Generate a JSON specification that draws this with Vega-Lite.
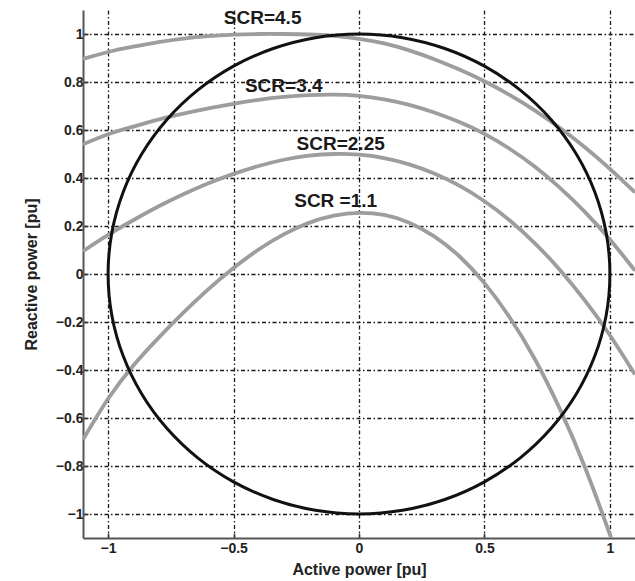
{
  "$schema": "https://vega.github.io/schema/vega-lite/v6.json",
  "width": 552,
  "height": 528,
  "autosize": {"type": "none"},
  "padding": {"left": 83, "top": 10, "right": 0, "bottom": 43},
  "background": "white",
  "config": {
    "view": {"stroke": null},
    "axis": {
      "grid": true,
      "gridColor": "#1a1a1a",
      "gridDash": [4, 2.5, 1.5, 2.5],
      "gridWidth": 1.3,
      "domainColor": "#555555",
      "domainWidth": 2,
      "tickColor": "#333333",
      "tickSize": -5,
      "tickWidth": 1.5,
      "labelFont": "Liberation Sans",
      "labelFontWeight": "bold",
      "labelFontSize": 14,
      "labelColor": "#222222",
      "labelFlush": false,
      "format": "~g",
      "titleFont": "Liberation Sans",
      "titleFontSize": 16,
      "titleFontWeight": "bold",
      "titleColor": "#222222"
    }
  },
  "datasets": {
    "curves": [
      {"P": -1.1, "Q": 0.896, "SCR": "4.5"},
      {"P": -1.0, "Q": 0.925, "SCR": "4.5"},
      {"P": -0.9, "Q": 0.947, "SCR": "4.5"},
      {"P": -0.8, "Q": 0.966, "SCR": "4.5"},
      {"P": -0.7, "Q": 0.981, "SCR": "4.5"},
      {"P": -0.6, "Q": 0.991, "SCR": "4.5"},
      {"P": -0.5, "Q": 0.997, "SCR": "4.5"},
      {"P": -0.4, "Q": 1.0, "SCR": "4.5"},
      {"P": -0.3, "Q": 1.0, "SCR": "4.5"},
      {"P": -0.2, "Q": 0.998, "SCR": "4.5"},
      {"P": -0.1, "Q": 0.992, "SCR": "4.5"},
      {"P": 0.0, "Q": 0.98, "SCR": "4.5"},
      {"P": 0.1, "Q": 0.961, "SCR": "4.5"},
      {"P": 0.2, "Q": 0.932, "SCR": "4.5"},
      {"P": 0.3, "Q": 0.895, "SCR": "4.5"},
      {"P": 0.4, "Q": 0.852, "SCR": "4.5"},
      {"P": 0.5, "Q": 0.803, "SCR": "4.5"},
      {"P": 0.6, "Q": 0.746, "SCR": "4.5"},
      {"P": 0.7, "Q": 0.682, "SCR": "4.5"},
      {"P": 0.8, "Q": 0.609, "SCR": "4.5"},
      {"P": 0.9, "Q": 0.528, "SCR": "4.5"},
      {"P": 1.0, "Q": 0.438, "SCR": "4.5"},
      {"P": 1.1, "Q": 0.34, "SCR": "4.5"},

      {"P": -1.1, "Q": 0.54, "SCR": "3.4"},
      {"P": -1.0, "Q": 0.582, "SCR": "3.4"},
      {"P": -0.9, "Q": 0.614, "SCR": "3.4"},
      {"P": -0.8, "Q": 0.643, "SCR": "3.4"},
      {"P": -0.7, "Q": 0.668, "SCR": "3.4"},
      {"P": -0.6, "Q": 0.69, "SCR": "3.4"},
      {"P": -0.5, "Q": 0.709, "SCR": "3.4"},
      {"P": -0.4, "Q": 0.726, "SCR": "3.4"},
      {"P": -0.3, "Q": 0.738, "SCR": "3.4"},
      {"P": -0.2, "Q": 0.745, "SCR": "3.4"},
      {"P": -0.1, "Q": 0.747, "SCR": "3.4"},
      {"P": 0.0, "Q": 0.742, "SCR": "3.4"},
      {"P": 0.1, "Q": 0.728, "SCR": "3.4"},
      {"P": 0.2, "Q": 0.705, "SCR": "3.4"},
      {"P": 0.3, "Q": 0.673, "SCR": "3.4"},
      {"P": 0.4, "Q": 0.633, "SCR": "3.4"},
      {"P": 0.5, "Q": 0.584, "SCR": "3.4"},
      {"P": 0.6, "Q": 0.522, "SCR": "3.4"},
      {"P": 0.7, "Q": 0.448, "SCR": "3.4"},
      {"P": 0.8, "Q": 0.36, "SCR": "3.4"},
      {"P": 0.9, "Q": 0.259, "SCR": "3.4"},
      {"P": 1.0, "Q": 0.144, "SCR": "3.4"},
      {"P": 1.1, "Q": 0.014, "SCR": "3.4"},

      {"P": -1.1, "Q": 0.095, "SCR": "2.25"},
      {"P": -1.0, "Q": 0.163, "SCR": "2.25"},
      {"P": -0.9, "Q": 0.224, "SCR": "2.25"},
      {"P": -0.8, "Q": 0.281, "SCR": "2.25"},
      {"P": -0.7, "Q": 0.332, "SCR": "2.25"},
      {"P": -0.6, "Q": 0.378, "SCR": "2.25"},
      {"P": -0.5, "Q": 0.417, "SCR": "2.25"},
      {"P": -0.4, "Q": 0.45, "SCR": "2.25"},
      {"P": -0.3, "Q": 0.476, "SCR": "2.25"},
      {"P": -0.2, "Q": 0.493, "SCR": "2.25"},
      {"P": -0.1, "Q": 0.5, "SCR": "2.25"},
      {"P": 0.0, "Q": 0.497, "SCR": "2.25"},
      {"P": 0.1, "Q": 0.483, "SCR": "2.25"},
      {"P": 0.2, "Q": 0.457, "SCR": "2.25"},
      {"P": 0.3, "Q": 0.419, "SCR": "2.25"},
      {"P": 0.4, "Q": 0.368, "SCR": "2.25"},
      {"P": 0.5, "Q": 0.303, "SCR": "2.25"},
      {"P": 0.6, "Q": 0.224, "SCR": "2.25"},
      {"P": 0.7, "Q": 0.129, "SCR": "2.25"},
      {"P": 0.8, "Q": 0.018, "SCR": "2.25"},
      {"P": 0.9, "Q": -0.11, "SCR": "2.25"},
      {"P": 1.0, "Q": -0.255, "SCR": "2.25"},
      {"P": 1.1, "Q": -0.419, "SCR": "2.25"},

      {"P": -1.1, "Q": -0.69, "SCR": "1.1"},
      {"P": -1.0, "Q": -0.52, "SCR": "1.1"},
      {"P": -0.9, "Q": -0.382, "SCR": "1.1"},
      {"P": -0.8, "Q": -0.267, "SCR": "1.1"},
      {"P": -0.7, "Q": -0.161, "SCR": "1.1"},
      {"P": -0.6, "Q": -0.063, "SCR": "1.1"},
      {"P": -0.5, "Q": 0.025, "SCR": "1.1"},
      {"P": -0.4, "Q": 0.102, "SCR": "1.1"},
      {"P": -0.3, "Q": 0.165, "SCR": "1.1"},
      {"P": -0.2, "Q": 0.213, "SCR": "1.1"},
      {"P": -0.1, "Q": 0.243, "SCR": "1.1"},
      {"P": 0.0, "Q": 0.255, "SCR": "1.1"},
      {"P": 0.1, "Q": 0.246, "SCR": "1.1"},
      {"P": 0.2, "Q": 0.214, "SCR": "1.1"},
      {"P": 0.3, "Q": 0.157, "SCR": "1.1"},
      {"P": 0.4, "Q": 0.074, "SCR": "1.1"},
      {"P": 0.5, "Q": -0.038, "SCR": "1.1"},
      {"P": 0.6, "Q": -0.18, "SCR": "1.1"},
      {"P": 0.7, "Q": -0.353, "SCR": "1.1"},
      {"P": 0.8, "Q": -0.561, "SCR": "1.1"},
      {"P": 0.9, "Q": -0.804, "SCR": "1.1"},
      {"P": 1.0, "Q": -1.086, "SCR": "1.1"},
      {"P": 1.05, "Q": -1.241, "SCR": "1.1"}
    ],
    "circle": [
      {"i": 0, "P": 1.0, "Q": 0.0},
      {"i": 1, "P": 0.9848, "Q": 0.1736},
      {"i": 2, "P": 0.9397, "Q": 0.342},
      {"i": 3, "P": 0.866, "Q": 0.5},
      {"i": 4, "P": 0.766, "Q": 0.6428},
      {"i": 5, "P": 0.6428, "Q": 0.766},
      {"i": 6, "P": 0.5, "Q": 0.866},
      {"i": 7, "P": 0.342, "Q": 0.9397},
      {"i": 8, "P": 0.1736, "Q": 0.9848},
      {"i": 9, "P": 0.0, "Q": 1.0},
      {"i": 10, "P": -0.1736, "Q": 0.9848},
      {"i": 11, "P": -0.342, "Q": 0.9397},
      {"i": 12, "P": -0.5, "Q": 0.866},
      {"i": 13, "P": -0.6428, "Q": 0.766},
      {"i": 14, "P": -0.766, "Q": 0.6428},
      {"i": 15, "P": -0.866, "Q": 0.5},
      {"i": 16, "P": -0.9397, "Q": 0.342},
      {"i": 17, "P": -0.9848, "Q": 0.1736},
      {"i": 18, "P": -1.0, "Q": 0.0},
      {"i": 19, "P": -0.9848, "Q": -0.1736},
      {"i": 20, "P": -0.9397, "Q": -0.342},
      {"i": 21, "P": -0.866, "Q": -0.5},
      {"i": 22, "P": -0.766, "Q": -0.6428},
      {"i": 23, "P": -0.6428, "Q": -0.766},
      {"i": 24, "P": -0.5, "Q": -0.866},
      {"i": 25, "P": -0.342, "Q": -0.9397},
      {"i": 26, "P": -0.1736, "Q": -0.9848},
      {"i": 27, "P": 0.0, "Q": -1.0},
      {"i": 28, "P": 0.1736, "Q": -0.9848},
      {"i": 29, "P": 0.342, "Q": -0.9397},
      {"i": 30, "P": 0.5, "Q": -0.866},
      {"i": 31, "P": 0.6428, "Q": -0.766},
      {"i": 32, "P": 0.766, "Q": -0.6428},
      {"i": 33, "P": 0.866, "Q": -0.5},
      {"i": 34, "P": 0.9397, "Q": -0.342},
      {"i": 35, "P": 0.9848, "Q": -0.1736}
    ],
    "labels": [
      {"P": -0.384, "Q": 1.065, "text": "SCR=4.5"},
      {"P": -0.3, "Q": 0.782, "text": "SCR=3.4"},
      {"P": -0.073, "Q": 0.54, "text": "SCR=2.25"},
      {"P": -0.093, "Q": 0.305, "text": "SCR =1.1"}
    ]
  },
  "layer": [
    {
      "data": {"name": "curves"},
      "mark": {"type": "line", "clip": true, "interpolate": "natural", "stroke": "#9d9d9d", "strokeWidth": 3.8},
      "encoding": {
        "x": {
          "field": "P",
          "type": "quantitative",
          "scale": {"domain": [-1.1, 1.1], "nice": false, "zero": false},
          "axis": {
            "values": [-1, -0.5, 0, 0.5, 1],
            "title": "Active power [pu]",
            "labelPadding": 8,
            "titlePadding": 6
          }
        },
        "y": {
          "field": "Q",
          "type": "quantitative",
          "scale": {"domain": [-1.1, 1.1], "nice": false, "zero": false},
          "axis": {
            "values": [-1, -0.8, -0.6, -0.4, -0.2, 0, 0.2, 0.4, 0.6, 0.8, 1],
            "title": "Reactive power [pu]",
            "labelPadding": 5,
            "titlePadding": 16
          }
        },
        "detail": {"field": "SCR", "type": "nominal"}
      }
    },
    {
      "data": {"name": "circle"},
      "mark": {"type": "line", "clip": true, "interpolate": "cardinal-closed", "stroke": "#111111", "strokeWidth": 3},
      "encoding": {
        "x": {"field": "P", "type": "quantitative"},
        "y": {"field": "Q", "type": "quantitative"},
        "order": {"field": "i", "type": "quantitative"}
      }
    },
    {
      "data": {"name": "labels"},
      "mark": {"type": "text", "font": "Liberation Sans", "fontWeight": "bold", "fontSize": 19, "color": "#1a1a1a", "align": "center", "baseline": "middle"},
      "encoding": {
        "x": {"field": "P", "type": "quantitative"},
        "y": {"field": "Q", "type": "quantitative"},
        "text": {"field": "text", "type": "nominal"}
      }
    }
  ]
}
